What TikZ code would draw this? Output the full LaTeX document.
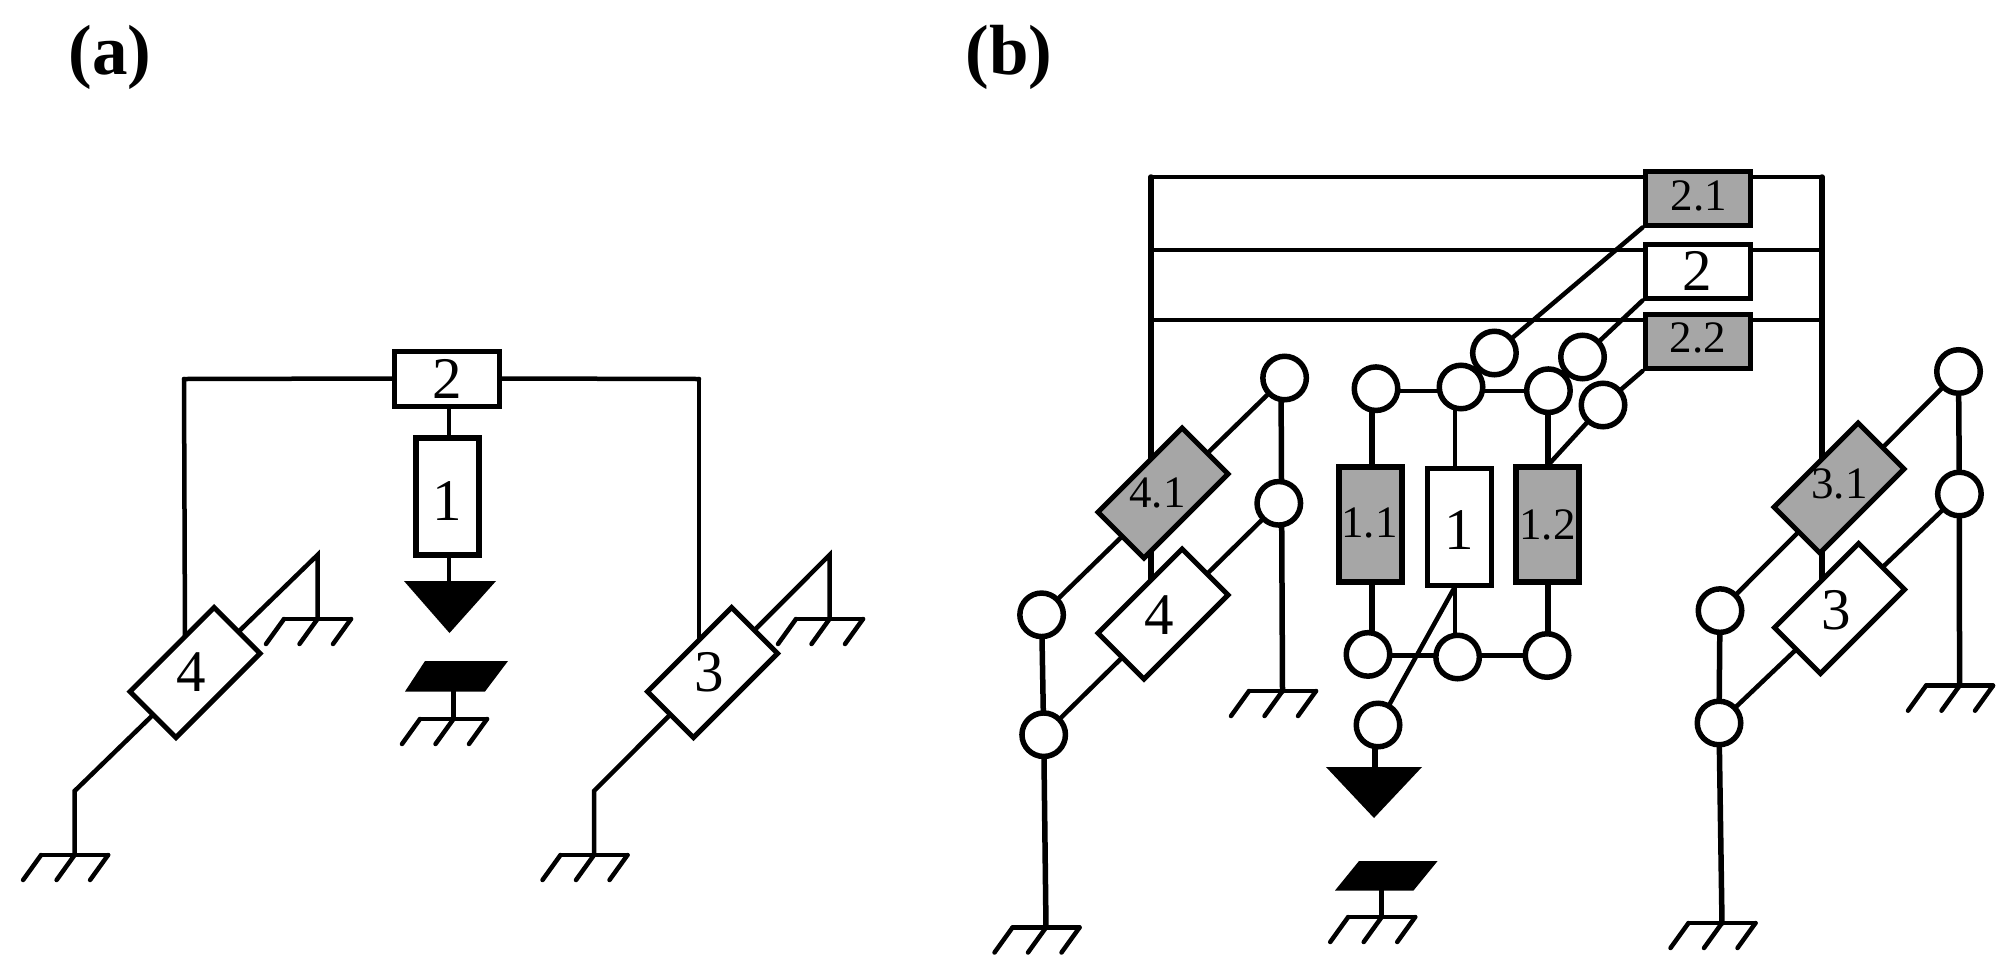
\documentclass[tikz,border=0pt]{standalone}
\usepackage{fontspec}
\setmainfont{Liberation Serif}
\usetikzlibrary{backgrounds}
\newcommand{\fs}[1]{\fontsize{#1}{#1}\selectfont}
\tikzset{
  x=1pt,y=-1pt,
  lnk/.style={line width=4.5pt,line cap=round,line join=miter},
  heavy/.style={line width=5.5pt,line cap=round},
  box/.style={draw=black,fill=white,line width=5pt,inner sep=0pt,font=\fs{59}},
  greybox/.style={box,fill=boxgrey,font=\fs{45}},
  dia/.style={draw=black,fill=white,line width=5pt,inner sep=0pt,rotate=45,minimum width=119pt,minimum height=65pt},
  greydia/.style={dia,fill=boxgrey},
  joint/.style={circle,draw=black,fill=white,line width=5.5pt,minimum size=43.5pt,inner sep=0pt},
  txt/.style={inner sep=0pt,font=\fs{59}},
  smalltxt/.style={inner sep=0pt,font=\fs{45}},
  heading/.style={inner sep=0pt,font=\fs{71}\bfseries},
  gnd/.pic={
    \draw[line width=4.5pt,line cap=round] (-33.5,0) -- (33.5,0);
    \draw[line width=4.5pt,line cap=round] (-33.5,0) -- (-51.5,25);
    \draw[line width=4.5pt,line cap=round] (0,0) -- (-18,25);
    \draw[line width=4.5pt,line cap=round] (33.5,0) -- (15.5,25);
  }
}
\definecolor{boxgrey}{HTML}{A6A6A6}
\begin{document}
\begin{tikzpicture}
\useasboundingbox (0,0) rectangle (2012,967);
\node[heading] (la) at (110,57) {(a)};
\node[heading] (lb) at (1009,57) {(b)};
%% panel a
\node[box,minimum width=105pt,minimum height=55pt] (a2) at (447,378.5) {2};
\node[box,line width=6pt,minimum width=63pt,minimum height=117pt] (a1) at (447,496) {};
\node[txt] (a1t) at (447,501) {1};
\node[dia] (a4) at (195,672.5) {};
\node[txt] (a4t) at (191,672) {4};
\node[dia] (a3) at (712.5,672.5) {};
\node[txt] (a3t) at (709,672) {3};
\coordinate (aTL) at (184,379);
\coordinate (aTR) at (699,379);
\coordinate (a4top) at (185,640);
\coordinate (a3top) at (699,640);
\coordinate (a4k1) at (317.5,555);
\coordinate (a4g1) at (317.5,619);
\coordinate (a4k2) at (74.6,791);
\coordinate (a4g2) at (74.6,855);
\coordinate (a3k1) at (829.5,555);
\coordinate (a3g1) at (829.5,619);
\coordinate (a3k2) at (594,791);
\coordinate (a3g2) at (594,855);
\coordinate (aStemT) at (449,400);
\coordinate (aTriN) at (449,583);
\coordinate (aPl) at (453.5,691);
\coordinate (aPg) at (453.5,719);
\pic at (a4g1) {gnd};
\pic at (a4g2) {gnd};
\pic at (a3g1) {gnd};
\pic at (a3g2) {gnd};
\pic at (aPg) {gnd};
\fill (404,581) -- (496,581) -- (449.5,633) -- cycle;
\fill (425,661) -- (508,661) -- (485,691.5) -- (405,691.5) -- cycle;
%% panel b: blocks
\node[greybox,minimum width=105pt,minimum height=54pt] (b21) at (1697.5,198) {};
\node[smalltxt] (b21t) at (1699,196) {2.1};
\node[box,minimum width=105pt,minimum height=54pt] (b2) at (1697.5,271) {2};
\node[greybox,minimum width=105pt,minimum height=54pt] (b22) at (1697.5,341.5) {};
\node[smalltxt] (b22t) at (1698,337.6) {2.2};
\node[greybox,line width=6pt,minimum width=63pt,minimum height=115pt] (b11) at (1370,524) {};
\node[smalltxt] (b11t) at (1369.5,522.6) {1.1};
\node[box,minimum width=64pt,minimum height=117pt] (b1) at (1459,526.5) {};
\node[txt] (b1t) at (1459,530) {1};
\node[greybox,line width=6pt,minimum width=63pt,minimum height=115pt] (b12) at (1547.5,524) {};
\node[smalltxt] (b12t) at (1547.5,525) {1.2};
\node[greydia] (d41) at (1163,493) {};
\node[smalltxt] (d41t) at (1157.5,493) {4.1};
\node[dia] (d4) at (1163,614) {};
\node[txt] (d4t) at (1159.4,615) {4};
\node[greydia] (d31) at (1839,488) {};
\node[smalltxt] (d31t) at (1839.5,483.5) {3.1};
\node[dia] (d3) at (1839.5,608.5) {};
\node[txt] (d3t) at (1836,610) {3};
%% panel b: joints
\node[joint] (ca) at (1494.4,353) {};
\node[joint] (cb) at (1582.5,357) {};
\node[joint] (cc) at (1603,405) {};
\node[joint] (t1) at (1376,388.7) {};
\node[joint] (t2) at (1461,387) {};
\node[joint] (t3) at (1548.4,390.7) {};
\node[joint] (u1) at (1368,654.4) {};
\node[joint] (u2) at (1457.6,657) {};
\node[joint] (u3) at (1547,655.5) {};
\node[joint] (cg) at (1378,725) {};
\node[joint] (l1) at (1284.6,378) {};
\node[joint] (l2) at (1278.8,503.3) {};
\node[joint] (l3) at (1041.6,614.8) {};
\node[joint] (l4) at (1043.7,734.7) {};
\node[joint] (r1) at (1958.5,371.5) {};
\node[joint] (r2) at (1959.4,494) {};
\node[joint] (r3) at (1720,610.6) {};
\node[joint] (r4) at (1719,723) {};
\coordinate (bTL) at (1151,177);
\coordinate (bTR) at (1822,177);
\coordinate (bML) at (1151,250);
\coordinate (bMR) at (1822,250);
\coordinate (bLL) at (1151,320);
\coordinate (bLR) at (1822,320);
\coordinate (bLend) at (1151,600);
\coordinate (bRend) at (1822,600);
\coordinate (rowTa) at (1376,391);
\coordinate (rowTb) at (1548,391);
\coordinate (rowUa) at (1368,655.5);
\coordinate (rowUb) at (1547,655.5);
\coordinate (s1t) at (1372,390);
\coordinate (s1b) at (1372,655);
\coordinate (s2t) at (1455,390);
\coordinate (s2b) at (1455,655);
\coordinate (s3t) at (1548,391);
\coordinate (s3b) at (1548,655);
\coordinate (b12top) at (1550,463);
\coordinate (b1bot) at (1454.4,587.7);
\coordinate (gL) at (1046,927.5);
\coordinate (gLs) at (1282.5,691);
\coordinate (sLt) at (1281,378);
\coordinate (gR) at (1722,923);
\coordinate (gRs) at (1959.5,685.7);
\coordinate (gC) at (1381.7,917);
\coordinate (pC) at (1381.7,890);
\coordinate (triC) at (1375,769);
\coordinate (triS) at (1375,730);
\pic at (gL) {gnd};
\pic at (gLs) {gnd};
\pic at (gR) {gnd};
\pic at (gRs) {gnd};
\pic at (gC) {gnd};
\fill (1326,767) -- (1422,767) -- (1374,818) -- cycle;
\fill (1359,861) -- (1437.6,861) -- (1413.5,890.5) -- (1335,890.5) -- cycle;
%% connectors behind the blocks
\begin{scope}[on background layer]
  \draw[lnk] (aTL) -- (a2.west);
  \draw[lnk] (a2.east) -- (aTR);
  \draw[lnk] (aTL) -- (a4top);
  \draw[lnk] (aTR) -- (a3top);
  \draw[lnk] (aStemT) -- (aTriN);
  \draw[lnk] (aPl) -- (aPg);
  \draw[lnk] (a4g2) -- (a4k2) -- (a4k1) -- (a4g1);
  \draw[lnk] (a3g2) -- (a3k2) -- (a3k1) -- (a3g1);
  \draw[lnk] (bTL) -- (bTR);
  \draw[lnk] (bML) -- (bMR);
  \draw[lnk] (bLL) -- (bLR);
  \draw[heavy] (bTL) -- (bLend);
  \draw[heavy] (bTR) -- (bRend);
  \draw[lnk] (b21.south west) -- (ca);
  \draw[lnk] (b2.south west) -- (cb);
  \draw[lnk] (b22.south west) -- (cc) -- (b12top);
  \draw[lnk] (rowTa) -- (rowTb);
  \draw[lnk] (rowUa) -- (rowUb);
  \draw[heavy] (s1t) -- (s1b);
  \draw[lnk] (s2t) -- (s2b);
  \draw[heavy] (s3t) -- (s3b);
  \draw[lnk] (b1bot) -- (cg);
  \draw[heavy] (triS) -- (triC);
  \draw[lnk] (pC) -- (gC);
  \draw[lnk] (l3) -- (l1);
  \draw[lnk] (l4) -- (l2);
  \draw[heavy] (sLt) -- (gLs);
  \draw[heavy] (l3) -- (l4);
  \draw[heavy] (l4) -- (gL);
  \draw[lnk] (r3) -- (r1);
  \draw[lnk] (r4) -- (r2);
  \draw[heavy] (r1) -- (r2);
  \draw[heavy] (r2) -- (gRs);
  \draw[heavy] (r3) -- (r4);
  \draw[heavy] (r4) -- (gR);
\end{scope}
\end{tikzpicture}
\end{document}
